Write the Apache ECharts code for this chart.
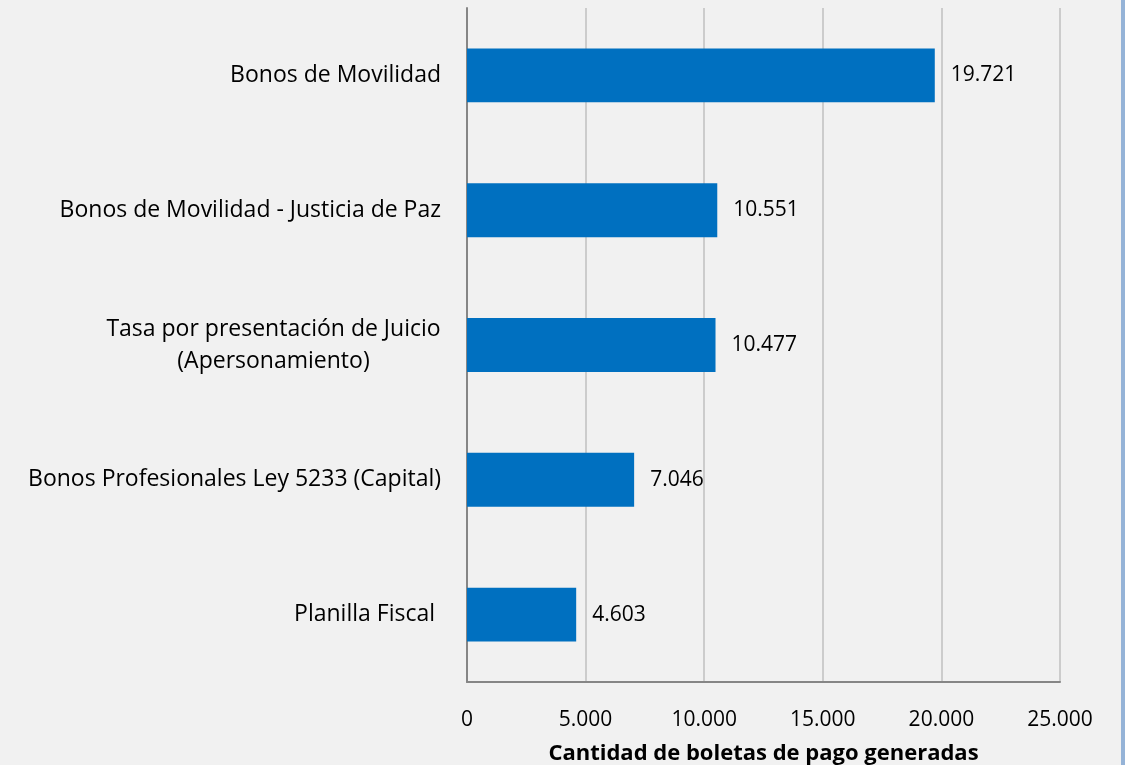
<!DOCTYPE html>
<html>
<head>
<meta charset="utf-8">
<title>Boletas de pago generadas</title>
<script src="https://cdn.jsdelivr.net/npm/echarts@6/dist/echarts.min.js"></script>
<style>
  html, body { margin: 0; padding: 0; background: #f1f1f1; }
  #chart { width: 1125px; height: 765px; }
</style>
</head>
<body>
<div id="chart"></div>
<script>
// datos
var categorias = [
  'Bonos de Movilidad',
  'Bonos de Movilidad - Justicia de Paz',
  'Tasa por presentación de Juicio\n(Apersonamiento)',
  'Bonos Profesionales Ley 5233 (Capital)',
  'Planilla Fiscal '
]
var boletas = [19721, 10551, 10477, 7046, 4603]
var ejeMax = 25000
var ejePaso = 5000
var tituloEje = 'Cantidad de boletas de pago generadas'

var fuente = '"Open Sans", "Noto Sans", sans-serif'
var tamCat = 23

// formato con punto de miles
function miles (v) {
  return String(v).replace(/\B(?=(\d{3})+(?!\d))/g, '.')
}

// ancho de la linea mas larga, para centrar las etiquetas de dos lineas
var ctx = document.createElement('canvas').getContext('2d')
ctx.font = tamCat + 'px ' + fuente
function anchoMax (txt) {
  return Math.max.apply(null, txt.split('\n').map(function (l) { return ctx.measureText(l).width }))
}

var myChart = echarts.init(document.getElementById('chart'))

var option = {
  backgroundColor: '#f1f1f1',
  textStyle: { fontFamily: fuente },
  grid: {
    left: 467,
    right: 65,
    top: 8,
    bottom: 83,
    outerBoundsMode: 'none'
  },
  xAxis: {
    type: 'value',
    min: 0,
    max: ejeMax,
    interval: ejePaso,
    name: tituloEje,
    nameLocation: 'middle',
    nameGap: 61,
    nameTextStyle: { fontSize: 22, fontWeight: 'bold', color: '#000', fontFamily: fuente },
    axisLine: { show: true, lineStyle: { color: '#868686', width: 2 } },
    axisTick: { show: false },
    axisLabel: {
      margin: 28,
      fontSize: 21,
      color: '#000',
      formatter: function (v) { return miles(v) }
    },
    splitLine: { show: true, lineStyle: { color: '#bfbfbf', width: 1.5 } }
  },
  yAxis: {
    type: 'category',
    inverse: true,
    data: categorias,
    axisLine: { show: true, lineStyle: { color: '#868686', width: 2 } },
    axisTick: { show: false },
    axisLabel: {
      margin: 26,
      fontSize: tamCat,
      color: '#000',
      lineHeight: 32,
      formatter: function (v) {
        if (v.indexOf('\n') < 0) return v
        return v.split('\n').map(function (l) { return '{c|' + l + '}' }).join('\n')
      },
      rich: {
        c: {
          fontSize: tamCat,
          lineHeight: 32,
          color: '#000',
          align: 'center',
          width: Math.ceil(anchoMax(categorias[2]))
        }
      }
    }
  },
  series: [
    {
      type: 'bar',
      data: boletas,
      barCategoryGap: '60%',
      itemStyle: { color: '#0070c0' },
      label: {
        show: true,
        position: 'right',
        distance: 16,
        fontSize: 21,
        color: '#000',
        formatter: function (p) { return miles(p.value) }
      },
      silent: true
    }
  ],
  graphic: [
    // borde azul a la derecha
    { type: 'rect', right: 0, top: 0, shape: { width: 4, height: 765 }, style: { fill: '#95b3d7' }, silent: true }
  ]
}

myChart.setOption(option)
</script>
</body>
</html>
